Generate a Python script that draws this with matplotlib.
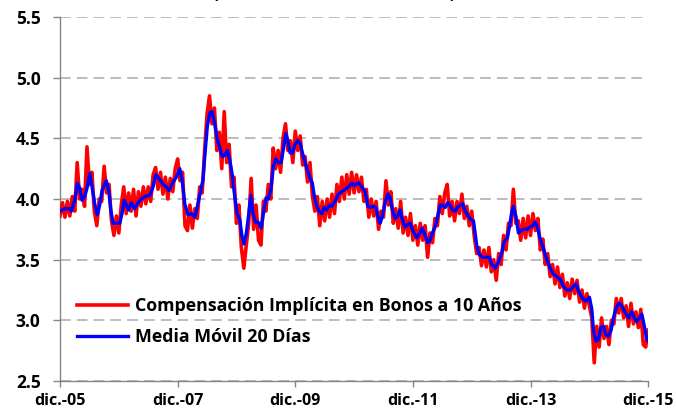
import matplotlib
matplotlib.use("Agg")
import matplotlib.pyplot as plt
import numpy as np

# ---- data (x = months since dic.-05) ----
blue_t = [0.0, 0.96, 1.98, 2.31, 3.0, 3.53, 4.02, 4.49, 5.04, 5.57, 6.06, 6.53, 7.08, 7.61, 8.10, 8.57,
          9.45, 9.94, 10.35, 10.82, 11.49, 12.18, 12.65, 13.06, 13.53, 14.02, 14.55, 15.24, 15.92, 16.59,
          17.29, 18.31, 18.98, 19.53, 20.35, 21.02, 21.69, 22.24, 23.06, 23.73, 24.43, 24.90, 25.45, 26.12,
          26.80, 27.49, 28.02, 28.71, 29.18, 29.53, 30.06, 30.55, 31.02, 31.57, 32.10, 32.59, 33.12, 33.61,
          34.14, 34.63, 35.10, 35.65, 36.12, 36.67, 37.14, 37.55, 38.02, 38.51, 38.92, 39.39, 39.86, 40.41,
          41.02, 41.49, 42.04, 42.51, 43.06, 43.53, 44.02, 44.55, 45.10, 45.57, 46.06, 46.47, 46.94, 47.41,
          47.96, 48.51, 48.98, 49.45, 50.0, 50.55, 51.02, 51.49, 51.90, 52.39, 52.86, 53.41, 53.94, 54.43,
          54.90, 55.45, 56.12, 56.80, 57.49, 58.16, 58.84, 59.53, 60.06, 60.55, 61.02, 61.57, 62.24, 62.80,
          63.27, 63.94, 64.43, 64.84, 65.31, 65.78, 66.33, 66.88, 67.35, 67.82, 68.37, 68.92, 69.39, 69.86,
          70.41, 70.96, 71.43, 72.10, 72.80, 73.47, 73.94, 74.49, 75.04, 75.51, 75.98, 76.53, 77.08, 77.55,
          78.02, 78.57, 79.12, 79.59, 80.06, 80.61, 81.08, 81.63, 82.18, 82.65, 83.33, 83.82, 84.35, 84.69,
          85.04, 85.57, 86.27, 86.94, 87.61, 88.10, 88.78, 89.45, 90.14, 90.67, 91.29, 91.69, 92.18, 92.51,
          93.06, 93.53, 94.02, 94.55, 95.24, 95.92, 96.47, 96.94, 97.41, 97.96, 98.63, 99.33, 100.0, 100.67,
          101.37, 102.04, 102.71, 103.41, 104.08, 104.76, 105.31, 105.78, 106.47, 107.14, 107.61, 108.02,
          108.51, 108.84, 109.33, 109.86, 110.35, 110.88, 111.37, 111.90, 112.45, 112.92, 113.47, 113.94,
          114.43, 114.96, 115.51, 116.06, 116.67, 117.14, 117.69, 118.22, 118.71, 119.18, 119.73, 120.0]
blue_v = [3.90, 3.92, 3.92, 3.90, 3.99, 4.13, 4.09, 3.99, 4.02, 4.10, 4.21, 4.10, 3.96, 3.87, 3.95, 4.07,
          4.15, 4.07, 3.91, 3.80, 3.80, 3.80, 3.88, 3.99, 3.95, 3.91, 3.97, 3.92, 3.97, 4.00,
          4.02, 4.03, 4.10, 4.20, 4.16, 4.12, 4.10, 4.07, 4.14, 4.18, 4.25, 4.16, 3.96, 3.87,
          3.88, 3.85, 3.94, 4.07, 4.16, 4.35, 4.60, 4.71, 4.72, 4.62, 4.49, 4.42, 4.35, 4.36,
          4.40, 4.32, 4.21, 4.02, 3.88, 3.83, 3.69, 3.63, 3.72, 3.88, 4.03, 3.88, 3.81, 3.81,
          3.76, 3.88, 4.01, 4.00, 4.09, 4.27, 4.33, 4.30, 4.30, 4.41, 4.54, 4.48, 4.38, 4.38,
          4.45, 4.48, 4.46, 4.38, 4.30, 4.23, 4.17, 4.13, 4.02, 3.94, 3.90, 3.88, 3.93, 3.91,
          3.95, 3.94, 3.98, 4.04, 4.06, 4.08, 4.10, 4.13, 4.11, 4.13, 4.13, 4.10, 4.06, 3.94,
          3.93, 3.94, 3.93, 3.86, 3.80, 3.86, 3.97, 4.04, 4.01, 3.91, 3.84, 3.86, 3.91, 3.83,
          3.77, 3.79, 3.80, 3.73, 3.68, 3.72, 3.76, 3.70, 3.64, 3.66, 3.72, 3.77, 3.86, 3.95,
          3.95, 3.93, 3.97, 3.95, 3.91, 3.90, 3.93, 3.95, 3.96, 3.90, 3.86, 3.83, 3.82, 3.72,
          3.61, 3.54, 3.52, 3.52, 3.52, 3.46, 3.43, 3.48, 3.56, 3.65, 3.68, 3.77, 3.89, 3.94,
          3.85, 3.72, 3.74, 3.75, 3.75, 3.77, 3.78, 3.81, 3.77, 3.67, 3.59, 3.50, 3.43, 3.38,
          3.36, 3.34, 3.28, 3.25, 3.25, 3.28, 3.30, 3.24, 3.19, 3.16, 3.17, 3.19,
          3.09, 2.92, 2.83, 2.84, 2.94, 2.95, 2.88, 2.87, 2.92, 3.02, 3.10, 3.14,
          3.13, 3.09, 3.05, 3.02, 3.07, 3.02, 2.99, 3.02, 3.05, 2.96, 2.84, 2.83]

# red daily series, sampled every half month from dic.-05
red_v = [3.86, 3.97, 3.85, 3.98, 3.86, 4.02, 3.90, 4.30, 4.00, 4.08, 3.94, 4.43, 4.12, 4.22, 3.90, 3.78,
         4.00, 3.98, 4.27, 4.05, 4.12, 3.82, 3.70, 3.86, 3.72, 3.95, 4.10, 3.88, 4.05, 3.90, 4.08, 3.86,
         4.06, 3.94, 4.10, 3.96, 4.10, 3.98, 4.20, 4.26, 4.08, 4.22, 4.04, 4.18, 4.00, 4.17, 4.06, 4.25,
         4.33, 4.15, 4.22, 3.78, 3.74, 3.95, 3.76, 3.92, 3.84, 4.10, 4.05, 4.40, 4.70, 4.85, 4.62, 4.75,
         4.40, 4.55, 4.25, 4.72, 4.30, 4.45, 4.10, 4.18, 3.80, 3.95, 3.60, 3.43, 3.62, 3.80, 4.17, 3.75,
         3.95, 3.66, 3.62, 3.98, 3.90, 4.12, 4.00, 4.42, 4.25, 4.40, 4.22, 4.50, 4.62, 4.40, 4.48, 4.30,
         4.56, 4.40, 4.52, 4.28, 4.35, 4.14, 4.30, 4.02, 3.90, 4.02, 3.78, 3.98, 3.82, 4.00, 3.85, 4.04,
         3.88, 4.12, 3.98, 4.18, 4.00, 4.20, 4.04, 4.22, 4.05, 4.20, 4.06, 4.18, 3.98, 4.08, 3.85, 4.00,
         3.86, 3.98, 3.75, 3.90, 3.85, 4.15, 3.95, 4.06, 3.80, 3.92, 3.76, 3.98, 3.72, 3.85, 3.70, 3.88,
         3.66, 3.78, 3.62, 3.80, 3.66, 3.78, 3.52, 3.72, 3.64, 3.84, 3.78, 4.02, 3.88, 4.05, 4.12, 3.86,
         3.98, 3.82, 3.98, 3.88, 4.04, 3.84, 3.94, 3.78, 3.90, 3.70, 3.55, 3.60, 3.45, 3.58, 3.44, 3.60,
         3.40, 3.50, 3.33, 3.55, 3.46, 3.70, 3.58, 3.80, 3.78, 4.08, 3.80, 3.82, 3.66, 3.84, 3.68, 3.86,
         3.70, 3.88, 3.74, 3.84, 3.58, 3.67, 3.46, 3.55, 3.36, 3.46, 3.30, 3.44, 3.27, 3.38, 3.20, 3.31,
         3.18, 3.34, 3.22, 3.33, 3.15, 3.25, 3.10, 3.22, 3.12, 3.02, 2.65, 2.95, 2.78, 3.02, 2.85, 2.95,
         2.80, 3.00, 2.97, 3.18, 3.06, 3.18, 3.02, 3.12, 2.95, 3.14, 2.97, 3.07, 2.94, 3.09, 2.80, 2.78,
         2.92]
red_t = np.arange(len(red_v)) * 0.5

tick_pos = [0, 24, 48, 72, 96, 120]
tick_lab = ["dic.-05", "dic.-07", "dic.-09", "dic.-11", "dic.-13", "dic.-15"]
y_ticks = [2.5, 3.0, 3.5, 4.0, 4.5, 5.0, 5.5]

label_red = "Compensación Implícita en Bonos a 10 Años"
label_blue = "Media Móvil 20 Días"

plt.rcParams['font.family'] = ['Open Sans', 'DejaVu Sans']

fig = plt.figure(figsize=(6.76, 4.11), dpi=100)
ax = fig.add_axes([0.0888, 0.073, 0.870, 0.8856])

ax.plot(red_t, red_v, color="#FF0000", lw=2.6, label=label_red, zorder=3)
ax.plot(blue_t, blue_v, color="#0000FF", lw=2.4, label=label_blue, zorder=4)

ax.set_xlim(0, 120)
ax.set_ylim(2.5, 5.5)
ax.set_xticks(tick_pos)
ax.set_xticklabels(tick_lab)
ax.set_yticks(y_ticks)
ax.set_yticklabels([f"{v:.1f}" for v in y_ticks])
for lab in ax.get_xticklabels():
    lab.set_fontweight("bold")
    lab.set_fontsize(11.5)
for lab in ax.get_yticklabels():
    lab.set_fontweight("bold")
    lab.set_fontsize(12.5)
ax.tick_params(axis="x", direction="out", length=4, width=1, color="#868686", pad=5)
ax.tick_params(axis="y", direction="out", length=5, width=1, color="#868686", pad=9)

ax.yaxis.grid(True, color="#AAAAAA", linestyle=(0, (7, 4)), linewidth=1.1)
ax.set_axisbelow(True)
for s in ["top", "right"]:
    ax.spines[s].set_visible(False)
for s in ["left", "bottom"]:
    ax.spines[s].set_color("#868686")
    ax.spines[s].set_linewidth(1.0)

leg = ax.legend(loc="upper left", bbox_to_anchor=(0.029, 0.231), frameon=False,
                prop={"weight": "bold", "size": 12.8}, handlelength=2.85, handletextpad=0.4,
                labelspacing=0.75, borderpad=0, borderaxespad=0)

# bottoms of the (cut-off) title parentheses at the top edge
fig.text(215 / 676, 1.004, "(", fontsize=12, fontweight="bold", ha="center", va="baseline")
fig.text(452 / 676, 1.004, ")", fontsize=12, fontweight="bold", ha="center", va="baseline")

fig.savefig("out.png", dpi=100)
